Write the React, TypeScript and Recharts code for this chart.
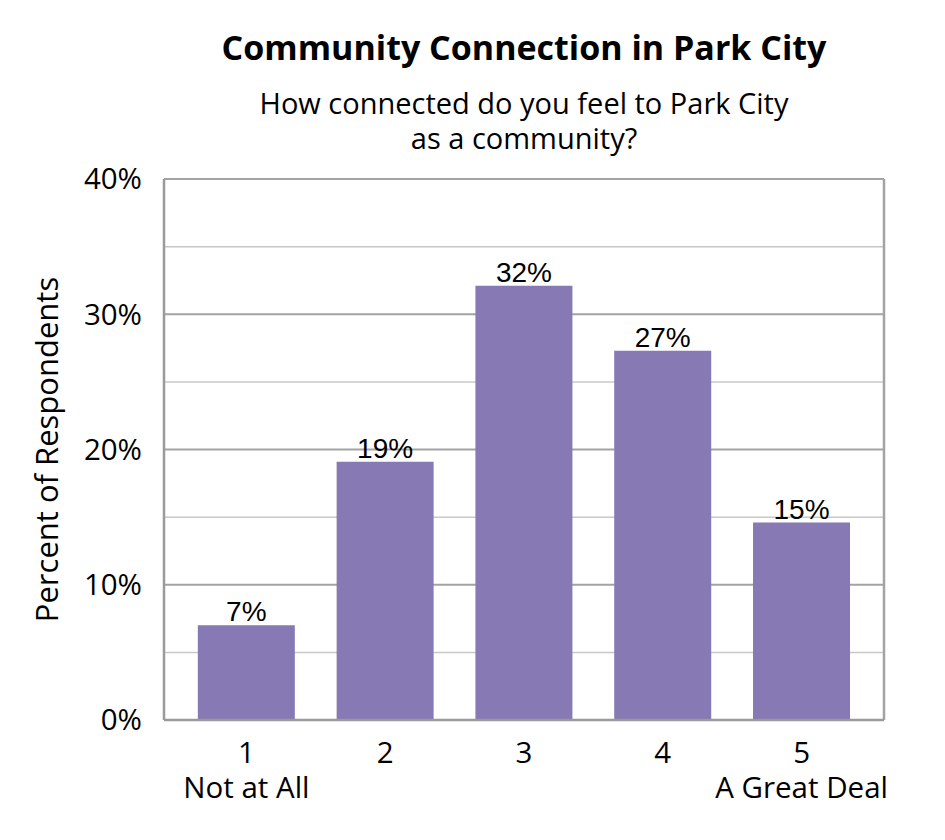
import { BarChart, Bar, XAxis, YAxis, CartesianGrid, LabelList } from "recharts"

const levels = ["1", "2", "3", "4", "5"]
const levelNotes = ["Not at All", "", "", "", "A Great Deal"]
const percents = [7.0, 19.1, 32.1, 27.3, 14.6]
const majorTicks = [0, 10, 20, 30, 40]
const minorTicks = [5, 15, 25, 35]

const data = levels.map((level, i) => ({ level, note: levelNotes[i], pct: percents[i] }))

const FONT = "'Open Sans', sans-serif"
const BAR_COLOR = "#8779B4"

const LevelTick = ({ x, y, payload, index }: any) => {
  const note = levelNotes[index]
  return (
    <g transform={`translate(${x},${y})`}>
      <text textAnchor="middle" fontFamily={FONT} fontSize={29.5} fill="#000">
        <tspan x={0} y={35}>{payload.value}</tspan>
        {note ? <tspan x={0} y={70}>{note}</tspan> : null}
      </text>
    </g>
  )
}

export default function App() {
  return (
    <div style={{ position: "absolute", left: 0, top: 0, width: 945, height: 840, background: "#fff" }}>
      <BarChart
        width={945}
        height={840}
        data={data}
        margin={{ top: 179, right: 61, bottom: 0, left: 0 }}
        barCategoryGap="15%"
      >
        <CartesianGrid horizontalValues={minorTicks} vertical={false} stroke="#c8c8c8" strokeWidth={1.5} />
        <CartesianGrid vertical={false} stroke="#a3a3a3" strokeWidth={2} />
        <CartesianGrid
          horizontal={false}
          verticalCoordinatesGenerator={({ offset }: any) => [offset.left + offset.width]}
          stroke="#a3a3a3"
          strokeWidth={2.5}
        />
        <XAxis
          dataKey="level"
          height={120}
          interval={0}
          tickLine={false}
          axisLine={{ stroke: "#9a9a9a", strokeWidth: 2.5 }}
          padding={{ left: 13, right: 13 }}
          tick={<LevelTick />}
        />
        <YAxis
          width={164}
          domain={[0, 40]}
          ticks={majorTicks}
          tickFormatter={(v: number) => `${v}%`}
          tickLine={false}
          tickMargin={16}
          axisLine={{ stroke: "#9a9a9a", strokeWidth: 2.5 }}
          tick={{ fontFamily: FONT, fontSize: 29.5, fill: "#000" }}
        />
        <Bar dataKey="pct" fill={BAR_COLOR} isAnimationActive={false}>
          <LabelList
            dataKey="pct"
            position="top"
            offset={4}
            formatter={(v: number) => `${Math.round(v)}%`}
            style={{ fontFamily: "'Liberation Sans', Arial, sans-serif", fontSize: 28, fill: "#000" }}
          />
        </Bar>
      </BarChart>
      <svg
        width={945}
        height={840}
        style={{ position: "absolute", left: 0, top: 0, pointerEvents: "none" }}
      >
        <text x={524} y={60} textAnchor="middle" fontFamily={FONT} fontWeight={700} fontSize={34} fill="#000">
          Community Connection in Park City
        </text>
        <text x={524} y={114} textAnchor="middle" fontFamily={FONT} fontSize={29} fill="#000">
          How connected do you feel to Park City
        </text>
        <text x={524} y={149} textAnchor="middle" fontFamily={FONT} fontSize={29} fill="#000">
          as a community?
        </text>
        <text
          x={58}
          y={449.5}
          transform="rotate(-90 58 449.5)"
          textAnchor="middle"
          fontFamily={FONT}
          fontSize={31}
          fill="#000"
        >
          Percent of Respondents
        </text>
      </svg>
    </div>
  )
}
